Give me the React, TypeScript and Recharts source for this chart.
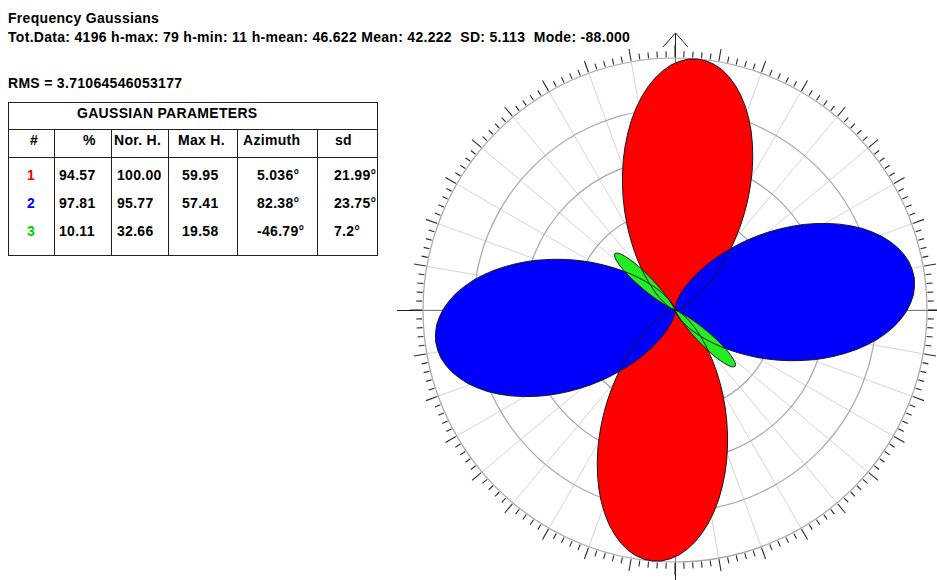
import React from 'react';
import { RadarChart, Radar, PolarGrid, PolarAngleAxis, PolarRadiusAxis } from 'recharts';

const W = 937;
const H = 580;
const CX = 675;
const CY = 310;
const R = 252;

// ---- texts ----
const titleText = 'Frequency Gaussians';
const statsText = 'Tot.Data: 4196 h-max: 79 h-min: 11 h-mean: 46.622 Mean: 42.222  SD: 5.113  Mode: -88.000';
const rmsText = 'RMS = 3.71064546053177';
const tableTitle = 'GAUSSIAN PARAMETERS';
const tableHeaders = ['#', '%', 'Nor. H.', 'Max H.', 'Azimuth', 'sd'];

// ---- gaussian table ----
const gaussIds = ['1', '2', '3'];
const gaussPct = ['94.57', '97.81', '10.11'];
const gaussNorH = ['100.00', '95.77', '32.66'];
const gaussMaxH = ['59.95', '57.41', '19.58'];
const gaussAzimuth = ['5.036°', '82.38°', '-46.79°'];
const gaussSd = ['21.99°', '23.75°', '7.2°'];
const gaussColors = ['#ff0000', '#0000ff', '#00d000'];

// ---- petals: axis azimuth (deg clockwise from N) and radial profile (normalised height)
// read at successive angular offsets from the petal axis ----
const redAzimuth = 5.036;
const redStep = 2;
const redProfile = [
  100, 99.7, 98.7, 97.2, 95.0, 92.3, 89.1, 85.5, 81.5, 77.2, 72.6, 67.9, 63.1, 58.2, 53.4, 48.7,
  44.1, 39.7, 35.5, 31.5, 27.8, 24.4, 21.2, 18.4, 15.8, 13.5, 11.5, 9.7, 8.1, 6.8, 5.6, 4.6, 3.8,
  3.1, 2.5, 2.0, 1.6, 1.3, 1.0, 0.8, 0.6, 0.5, 0.4, 0.3, 0.2, 0.2,
];
const blueAzimuth = 82.38;
const blueStep = 2;
const blueProfile = [
  95.8, 95.5, 94.8, 93.5, 91.8, 89.6, 87.1, 84.1, 80.9, 77.3, 73.5, 69.5, 65.4, 61.3, 57.0, 52.8,
  48.7, 44.6, 40.7, 36.9, 33.2, 29.8, 26.6, 23.6, 20.9, 18.3, 16.0, 13.9, 12.0, 10.4, 8.9, 7.5, 6.4,
  5.4, 4.5, 3.8, 3.1, 2.6, 2.1, 1.7, 1.4, 1.1, 0.9, 0.7, 0.6, 0.5,
];
const greenAzimuth = -46.79;
const greenStep = 1;
const greenProfile = [
  32.7, 32.4, 31.7, 30.4, 28.8, 26.9, 24.7, 22.3, 19.8, 17.3, 15.0, 12.7, 10.6, 8.7, 7.1, 5.6, 4.4,
  3.4, 2.6, 1.9, 1.4, 1.0, 0.7, 0.5, 0.4, 0.2, 0.2,
];

const radiusTicks = [0, 20, 40, 60, 80, 100];
const spokeTicks = Array.from({ length: 36 }, (_, i) => i * 10);
const scaleTicks = Array.from({ length: 180 }, (_, i) => i * 2);

function lobeRows(key: string, az: number, step: number, profile: number[]) {
  const rows: any[] = [];
  const n = profile.length - 1;
  for (const base of [az, az + 180]) {
    for (let i = -n; i <= n; i++) {
      const a = (((base + i * step) % 360) + 360) % 360;
      rows.push({ angle: a, [key]: profile[Math.abs(i)] });
    }
  }
  return rows;
}

const chartData = [
  ...lobeRows('red', redAzimuth, redStep, redProfile),
  ...lobeRows('blue', blueAzimuth, blueStep, blueProfile),
  ...lobeRows('green', greenAzimuth, greenStep, greenProfile),
];

const ScaleTick = (props: any) => {
  const { x, y, payload } = props;
  const rad = (payload.coordinate * Math.PI) / 180;
  const len = Math.round(payload.value) % 10 === 0 ? 12 : 6;
  return (
    <line
      x1={x}
      y1={y}
      x2={x + len * Math.cos(rad)}
      y2={y - len * Math.sin(rad)}
      stroke="#2a2a2a"
      strokeWidth={1.1}
    />
  );
};

const FONT = '"Liberation Sans", Arial, sans-serif';

const colX = [8, 54, 111, 168, 237, 317, 377];
const headerX = [30, 83, 114, 178, 243, 335];
const cellX = [27, 59, 117, 182, 257, 334];
const rowY = [180, 208, 236];

export default function App() {
  const rows = gaussIds.map((id, i) => [id, gaussPct[i], gaussNorH[i], gaussMaxH[i], gaussAzimuth[i], gaussSd[i]]);
  return (
    <div style={{ position: 'absolute', left: 0, top: 0, width: W, height: H, background: '#fff', overflow: 'hidden' }}>
      {/* axis cross with north arrow */}
      <svg width={W} height={H} style={{ position: 'absolute', left: 0, top: 0 }}>
        <g stroke="#222" strokeWidth={1} fill="none">
          <line x1={CX - R - 26} y1={CY + 0.5} x2={CX + R + 30} y2={CY + 0.5} />
          <line x1={CX + 0.5} y1={CY - R - 25} x2={CX + 0.5} y2={CY + R + 30} />
          <polyline points={`${CX - 12},${CY - R - 11} ${CX + 0.5},${CY - R - 25} ${CX + 13},${CY - R - 11}`} />
        </g>
      </svg>
      <div style={{ position: 'absolute', left: 0, top: 0 }}>
        <RadarChart
          width={W}
          height={H}
          data={chartData}
          cx={CX}
          cy={CY}
          outerRadius={R}
          startAngle={90}
          endAngle={-270}
          margin={{ top: 0, right: 0, bottom: 0, left: 0 }}
        >
          <PolarAngleAxis dataKey="angle" type="number" domain={[0, 360]} ticks={spokeTicks} tick={false} tickLine={false} axisLine={false} />
          <PolarAngleAxis
            angleAxisId="scale"
            dataKey="angle"
            type="number"
            domain={[0, 360]}
            ticks={scaleTicks}
            tick={<ScaleTick />}
            tickLine={false}
            tickSize={1}
            axisLine={false}
          />
          <PolarRadiusAxis type="number" domain={[0, 100]} ticks={radiusTicks} tick={false} axisLine={false} tickLine={false} />
          <PolarGrid gridType="circle" polarRadius={[]} stroke="#d4d4d4" strokeWidth={1} />
          <PolarGrid gridType="circle" radialLines={false} stroke="#a6a6a6" strokeWidth={1.2} />
          <Radar dataKey="red" fill="#ff0000" fillOpacity={1} stroke="none" connectNulls isAnimationActive={false} />
          <Radar dataKey="blue" fill="#0000ff" fillOpacity={1} stroke="none" connectNulls isAnimationActive={false} />
          <Radar dataKey="green" fill="#22ee22" fillOpacity={1} stroke="none" connectNulls isAnimationActive={false} />
          <Radar dataKey="red" fill="none" stroke="#1a1a1a" strokeWidth={1} connectNulls isAnimationActive={false} />
          <Radar dataKey="blue" fill="none" stroke="#1a1a1a" strokeWidth={1} connectNulls isAnimationActive={false} />
          <Radar dataKey="green" fill="none" stroke="#1a1a1a" strokeWidth={1} connectNulls isAnimationActive={false} />
        </RadarChart>
      </div>
      {/* texts and parameter table */}
      <svg width={W} height={H} style={{ position: 'absolute', left: 0, top: 0, pointerEvents: 'none' }}>
        <g fontFamily={FONT} fontWeight="bold" fontSize={14} fill="#000" letterSpacing={0.3}>
          <text x={8} y={23}>{titleText}</text>
          <text x={8} y={42} xmlSpace="preserve">{statsText}</text>
          <text x={8} y={88}>{rmsText}</text>
          <text x={77} y={118}>{tableTitle}</text>
          {tableHeaders.map((h, i) => (
            <text key={h} x={headerX[i]} y={145}>{h}</text>
          ))}
          {rows.map((r, ri) =>
            r.map((c, ci) => (
              <text key={`${ri}-${ci}`} x={cellX[ci]} y={rowY[ri]} fill={ci === 0 ? gaussColors[ri] : '#000'}>
                {c}
              </text>
            ))
          )}
        </g>
        <g stroke="#222" strokeWidth={1} fill="none" shapeRendering="crispEdges">
          <rect x={colX[0] + 0.5} y={102.5} width={colX[6] - colX[0]} height={153} />
          <line x1={colX[0]} y1={129.5} x2={colX[6]} y2={129.5} />
          <line x1={colX[0]} y1={157.5} x2={colX[6]} y2={157.5} />
          {colX.slice(1, 6).map((x) => (
            <line key={x} x1={x + 0.5} y1={129.5} x2={x + 0.5} y2={255.5} />
          ))}
        </g>
      </svg>
    </div>
  );
}
